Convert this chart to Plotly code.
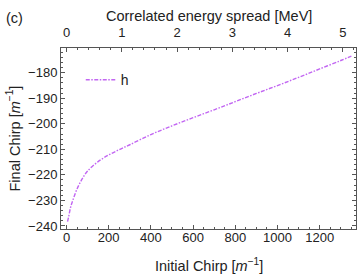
import plotly.graph_objects as go

initial_chirp = [5, 10, 20, 30, 50, 75, 100, 150, 200, 250, 300, 400, 500,
                 600, 700, 800, 900, 1000, 1100, 1200, 1300, 1350]
final_chirp = [-238.3, -236.5, -232.5, -230.0, -225.5, -221.5, -218.5, -214.8,
               -212.2, -210.1, -208.2, -204.2, -200.8, -197.6, -194.5, -191.3,
               -188.1, -185.0, -181.8, -178.5, -175.2, -173.5]
series_name = "h"
chirp_per_mev = 262.0  # conversion for the top axis
energy_ticks = [0, 1, 2, 3, 4, 5]

xr = [-26, 1372]
yr = [-241.2, -170.3]
FONT = "Liberation Sans, Arial, sans-serif"
frame = "#555555"

L, R, T, B = 61, 8, 48, 48
PH = 277 - T - B
PW = 364 - L - R

fig = go.Figure()
fig.add_trace(go.Scatter(
    x=initial_chirp, y=final_chirp, mode="lines", name=series_name,
    line=dict(color="#c266f2", width=1.4, dash="4px,1.5px,1.5px,1.5px", shape="spline"),
))
fig.add_trace(go.Scatter(x=[xr[0] / chirp_per_mev, xr[1] / chirp_per_mev], y=yr,
                         xaxis="x2", mode="markers", marker=dict(opacity=0),
                         showlegend=False, hoverinfo="skip"))

common = dict(showgrid=False, zeroline=False, showline=True, linecolor=frame,
              linewidth=1, ticks="inside", tickcolor=frame, ticklen=4,
              automargin=False,
              tickfont=dict(family=FONT, size=13, color="#222"))
TF = dict(size=14.5, family=FONT, color="#222")


def ypaper(py):
    return (277 - B - py) / PH


def xpaper(px):
    return (px - L) / PW


fig.update_layout(
    width=364, height=277,
    margin=dict(l=L, r=R, t=T, b=B),
    paper_bgcolor="white", plot_bgcolor="white",
    font=dict(family=FONT, size=13, color="#222"),
    xaxis=dict(range=xr, dtick=200, tick0=0, ticklabelstandoff=-4,
               minor=dict(dtick=50, ticklen=2, ticks="inside", tickcolor=frame),
               **common),
    xaxis2=dict(range=[xr[0] / chirp_per_mev, xr[1] / chirp_per_mev],
                overlaying="x", side="top", anchor="y", ticklabelstandoff=5,
                tickvals=energy_ticks,
                minor=dict(dtick=0.2, ticklen=2, ticks="inside", tickcolor=frame),
                **common),
    yaxis=dict(range=yr, dtick=10, mirror="ticks",
               minor=dict(dtick=2, ticklen=2, ticks="inside", tickcolor=frame),
               **common),
    legend=dict(x=0.067, y=0.822, xref="paper", yref="paper",
                xanchor="left", yanchor="middle", itemwidth=30, tracegroupgap=0,
                bgcolor="rgba(0,0,0,0)", font=dict(size=14)),
    showlegend=True,
    annotations=[
        dict(text="(c)", x=xpaper(4), y=ypaper(18), xanchor="left", yanchor="middle"),
        dict(text="Correlated energy spread [MeV]", x=0.5, y=ypaper(16.5),
             xanchor="center", yanchor="middle"),
        dict(text="Initial Chirp [<i>m</i><sup>−1</sup>]", x=0.5, y=ypaper(265),
             xanchor="center", yanchor="middle"),
        dict(text="Final Chirp [<i>m</i><sup>−1</sup>]", x=xpaper(13), y=0.5,
             xanchor="center", yanchor="middle", textangle=-90),
    ],
)
for a in fig.layout.annotations:
    a.update(xref="paper", yref="paper", showarrow=False, font=TF)

fig.write_html("out.html", config={"displayModeBar": False},
               post_script="document.body.style.margin='0';document.body.style.overflow='hidden';")
